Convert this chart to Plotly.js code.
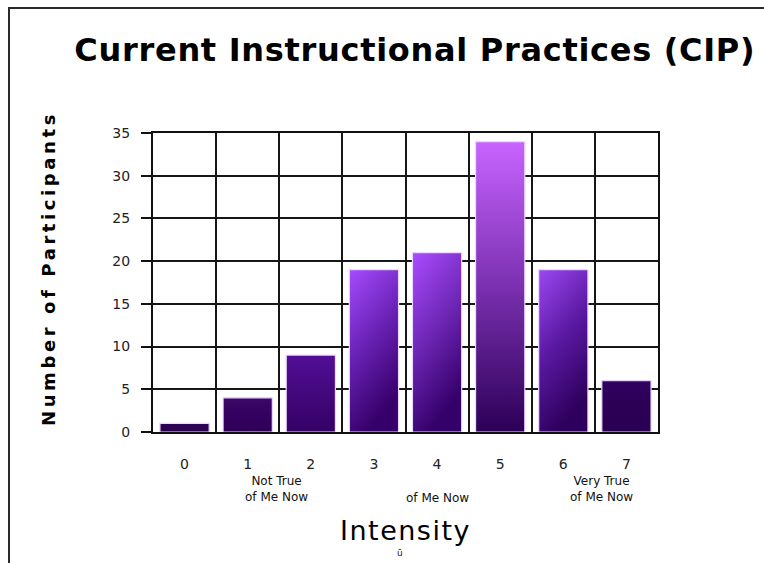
<!DOCTYPE html>
<html>
<head>
<meta charset="utf-8">
<script src="https://cdn.plot.ly/plotly-3.0.1.min.js"></script>
<style>
  html, body { margin: 0; padding: 0; background: #fff; overflow: hidden; }
  #chart { width: 764px; height: 563px; position: absolute; left: 0; top: 0; }
  #frame { position: absolute; left: 8px; top: 7px; width: 900px; height: 700px;
           border-left: 2px solid #2a2a2a; border-top: 2px solid #2a2a2a; pointer-events: none; }
  .ytitle { letter-spacing: 3.6px; }
  .gtitle { letter-spacing: 0.7px; }
  .xtitle { letter-spacing: 1.5px; }
</style>
</head>
<body>
<div id="chart"></div>
<div id="frame"></div>
<script>
// ---- data ----
const intensity = [0, 1, 2, 3, 4, 5, 6, 7];
const tickLabels = ['0', '1', '2', '3', '4', '5', '6', '7'];
const participants = [1, 4, 9, 19, 21, 34, 19, 6];
const scaleNotes = ['Not True<br>of Me Now', 'of Me Now', 'Very True<br>of Me Now'];
const scaleNoteAt = [1.45, 4.0, 6.6];

// ---- style ----
const midColors = ['#2c0052', '#34005f', '#43087c', '#6a22b6', '#7028b8', '#7a30b0', '#5c1aa4', '#2d0056'];
const topColors = ['#30005a', '#3a0868', '#520e96', '#a64cff', '#aa4cff', '#c864ff', '#9c48f2', '#300060'];
const botColors = ['#2a004e', '#2e0058', '#340066', '#36006a', '#34006a', '#2c0056', '#2e005e', '#2a0052'];

const trace = {
  type: 'bar',
  x: intensity,
  y: participants,
  width: 0.78,
  marker: { color: midColors, line: { color: '#ecd8ff', width: 1.2 } },
  hoverinfo: 'x+y'
};

const annotations = scaleNotes.map((t, i) => ({
  text: t, x: scaleNoteAt[i], xref: 'x', y: i === 1 ? -0.22 : -0.192, yref: 'paper',
  xanchor: 'center', yanchor: 'middle', showarrow: false,
  font: { family: 'DejaVu Sans', size: 12, color: '#111' }
}));
annotations.push({
  text: 'ū', x: 0.489, xref: 'paper', y: -0.405, yref: 'paper', showarrow: false,
  xanchor: 'center', yanchor: 'middle', font: { family: 'DejaVu Sans', size: 9, color: '#222' }
});

const layout = {
  width: 764, height: 563,
  margin: { l: 153, r: 106, t: 133, b: 131 },
  paper_bgcolor: '#ffffff', plot_bgcolor: '#ffffff',
  showlegend: false,
  title: {
    text: 'Current Instructional Practices (CIP)',
    x: 0.543, xref: 'container', xanchor: 'center',
    y: 0.911, yref: 'container', yanchor: 'middle',
    font: { family: 'DejaVu Sans', size: 32, weight: 'bold', color: '#000' }
  },
  xaxis: {
    range: [-0.5, 7.5],
    tickmode: 'array', tickvals: intensity, ticktext: tickLabels,
    ticks: '', showgrid: false, zeroline: false,
    showline: true, mirror: true, linecolor: '#111', linewidth: 2,
    ticklabelstandoff: 18,
    tickfont: { family: 'DejaVu Sans', size: 14, color: '#222' },
    minor: { tickmode: 'linear', tick0: 0.5, dtick: 1, showgrid: true, gridcolor: '#161616', gridwidth: 2, ticks: '' },
    title: { text: 'Intensity', standoff: 50, font: { family: 'DejaVu Sans', size: 27, color: '#000' } },
    fixedrange: true
  },
  yaxis: {
    range: [0, 35], tickmode: 'linear', tick0: 0, dtick: 5,
    ticks: 'outside', ticklen: 10, tickwidth: 2, tickcolor: '#111',
    showgrid: true, gridcolor: '#161616', gridwidth: 2, zeroline: false,
    showline: true, mirror: true, linecolor: '#111', linewidth: 2,
    ticklabelstandoff: 8,
    tickfont: { family: 'DejaVu Sans', size: 14, color: '#222' },
    title: { text: 'Number of Participants', standoff: 52, font: { family: 'DejaVu Sans', size: 18, weight: 'bold', color: '#000' } },
    fixedrange: true
  },
  annotations: annotations
};

Plotly.newPlot('chart', [trace], layout, { displayModeBar: false, staticPlot: true }).then(gd => {
  // nudge the y title upward along its own direction to match the reference
  const yt = gd.querySelector('.ytitle');
  if (yt) yt.setAttribute('transform', (yt.getAttribute('transform') || '') + ' translate(14,0)');
  // add per-bar gradients on top of the library-drawn bars
  const svg = gd.querySelector('svg.main-svg');
  const NS = 'http://www.w3.org/2000/svg';
  let defs = svg.querySelector('defs');
  if (!defs) { defs = document.createElementNS(NS, 'defs'); svg.insertBefore(defs, svg.firstChild); }
  const paths = gd.querySelectorAll('.barlayer .point path');
  paths.forEach((p, i) => {
    const g = document.createElementNS(NS, 'linearGradient');
    g.setAttribute('id', 'bargrad' + i);
    g.setAttribute('x1', '0'); g.setAttribute('y1', '0');
    g.setAttribute('x2', (i === 3 || i === 4 || i === 6) ? '0.35' : '0'); g.setAttribute('y2', '1');
    [[0, topColors[i]], [0.5, midColors[i]], [1, botColors[i]]].forEach(([o, c]) => {
      const s = document.createElementNS(NS, 'stop');
      s.setAttribute('offset', o); s.setAttribute('stop-color', c);
      g.appendChild(s);
    });
    defs.appendChild(g);
    p.style.fill = 'url(#bargrad' + i + ')';
  });
});
</script>
</body>
</html>
